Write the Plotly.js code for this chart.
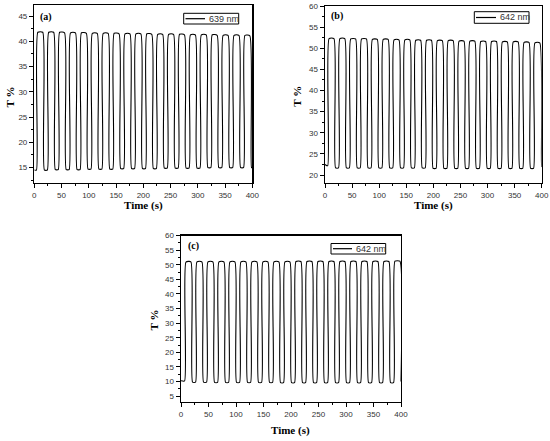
<!DOCTYPE html>
<html>
<head>
<meta charset="utf-8">
<script src="https://cdn.plot.ly/plotly-3.0.1.min.js"></script>
<style>html,body{margin:0;padding:0;background:#fff;}#chart{width:550px;height:441px;}</style>
</head>
<body>
<div id="chart"></div>
<script>
// Panel (a) 639 nm : time (s) and transmittance T %
const timeA = [0, 4, 6.5, 15.5, 18.5, 24, 26.5, 35.5, 38.5, 44, 46.5, 55.5, 58.5, 64, 66.5, 75.5, 78.5,
  84, 86.5, 95.5, 98.5, 104, 106.5, 115.5, 118.5, 124, 126.5, 135.5, 138.5, 144, 146.5, 155.5, 158.5,
  164, 166.5, 175.5, 178.5, 184, 186.5, 195.5, 198.5, 204, 206.5, 215.5, 218.5, 224, 226.5, 235.5, 238.5,
  244, 246.5, 255.5, 258.5, 264, 266.5, 275.5, 278.5, 284, 286.5, 295.5, 298.5, 304, 306.5, 315.5, 318.5,
  324, 326.5, 335.5, 338.5, 344, 346.5, 355.5, 358.5, 364, 366.5, 375.5, 378.5, 384, 386.5, 395.5, 398.5, 400];
const transA = [14.5, 14.5, 41.8, 41.8, 14.5, 14.5, 41.8, 41.8, 14.6, 14.6, 41.8, 41.7, 14.6, 14.6, 41.7, 41.7, 14.6,
  14.6, 41.7, 41.6, 14.7, 14.7, 41.6, 41.6, 14.7, 14.7, 41.6, 41.6, 14.7, 14.7, 41.6, 41.5, 14.8,
  14.8, 41.5, 41.5, 14.8, 14.8, 41.5, 41.5, 14.8, 14.8, 41.5, 41.4, 14.8, 14.8, 41.4, 41.4, 14.9,
  14.9, 41.4, 41.4, 14.9, 14.9, 41.4, 41.3, 14.9, 14.9, 41.3, 41.3, 14.9, 14.9, 41.3, 41.3, 15.0,
  15.0, 41.3, 41.2, 15.0, 15.0, 41.2, 41.2, 15.0, 15.0, 41.2, 41.2, 15.0, 15.0, 41.2, 41.1, 15.0, 15.0];

// Panel (b) 642 nm
const timeB = [0, 5, 7.5, 16.5, 19.5, 25, 27.5, 36.5, 39.5, 45, 47.5, 56.5, 59.5, 65, 67.5, 76.5, 79.5,
  85, 87.5, 96.5, 99.5, 105, 107.5, 116.5, 119.5, 125, 127.5, 136.5, 139.5, 145, 147.5, 156.5, 159.5,
  165, 167.5, 176.5, 179.5, 185, 187.5, 196.5, 199.5, 205, 207.5, 216.5, 219.5, 225, 227.5, 236.5, 239.5,
  245, 247.5, 256.5, 259.5, 265, 267.5, 276.5, 279.5, 285, 287.5, 296.5, 299.5, 305, 307.5, 316.5, 319.5,
  325, 327.5, 336.5, 339.5, 345, 347.5, 356.5, 359.5, 365, 367.5, 376.5, 379.5, 385, 387.5, 396.5, 399.5, 400];
const transB = [22.5, 22.2, 52.3, 52.3, 21.7, 21.7, 52.3, 52.3, 21.7, 21.7, 52.2, 52.2, 21.7, 21.7, 52.2, 52.2, 21.7,
  21.7, 52.1, 52.1, 21.7, 21.7, 52.1, 52.1, 21.7, 21.7, 52.0, 52.0, 21.7, 21.7, 52.0, 52.0, 21.7,
  21.7, 51.9, 51.9, 21.7, 21.7, 51.9, 51.9, 21.6, 21.6, 51.8, 51.8, 21.6, 21.6, 51.8, 51.8, 21.6,
  21.6, 51.7, 51.7, 21.6, 21.6, 51.7, 51.7, 21.6, 21.6, 51.6, 51.6, 21.6, 21.6, 51.6, 51.6, 21.6,
  21.6, 51.5, 51.5, 21.6, 21.6, 51.5, 51.5, 21.6, 21.6, 51.4, 51.4, 21.6, 21.6, 51.3, 51.3, 22.0, 22.2];

// Panel (c) 642 nm
const timeC = [0, 6.5, 9, 18, 21, 26.5, 29, 38, 41, 46.5, 49, 58, 61, 66.5, 69, 78, 81,
  86.5, 89, 98, 101, 106.5, 109, 118, 121, 126.5, 129, 138, 141, 146.5, 149, 158, 161,
  166.5, 169, 178, 181, 186.5, 189, 198, 201, 206.5, 209, 218, 221, 226.5, 229, 238, 241,
  246.5, 249, 258, 261, 266.5, 269, 278, 281, 286.5, 289, 298, 301, 306.5, 309, 318, 321,
  326.5, 329, 338, 341, 346.5, 349, 358, 361, 366.5, 369, 378, 381, 386.5, 389, 398, 400];
const transC = [10.3, 10.2, 50.9, 51.0, 9.8, 9.8, 51.0, 51.0, 9.8, 9.8, 51.0, 51.0, 9.7, 9.7, 51.0, 51.0, 9.7,
  9.7, 51.0, 51.0, 9.7, 9.7, 51.0, 51.0, 9.7, 9.7, 51.0, 51.0, 9.7, 9.7, 51.0, 51.0, 9.7,
  9.7, 51.0, 51.0, 9.6, 9.6, 51.0, 51.0, 9.6, 9.6, 51.1, 51.1, 9.6, 9.6, 51.1, 51.1, 9.6,
  9.6, 51.1, 51.1, 9.6, 9.6, 51.1, 51.1, 9.6, 9.6, 51.1, 51.1, 9.6, 9.6, 51.1, 51.1, 9.6,
  9.6, 51.1, 51.1, 9.6, 9.6, 51.1, 51.1, 9.6, 9.6, 51.1, 51.1, 9.6, 9.6, 51.2, 51.2, 10.0];

const seriesNames = ['639 nm', '642 nm', '642 nm'];
const panelLabels = ['(a)', '(b)', '(c)'];
const xTitle = 'Time (s)';
const yTitle = 'T %';

const lineStyle = {color: '#000', width: 1.1, shape: 'spline', smoothing: 0.5};
const data = [
  {x: timeA, y: transA, xaxis: 'x', yaxis: 'y', mode: 'lines', line: lineStyle, name: seriesNames[0], showlegend: false},
  {x: timeB, y: transB, xaxis: 'x2', yaxis: 'y2', mode: 'lines', line: lineStyle, name: seriesNames[1], showlegend: false},
  {x: timeC, y: transC, xaxis: 'x3', yaxis: 'y3', mode: 'lines', line: lineStyle, name: seriesNames[2], showlegend: false}
];

const tickFont = {family: 'Liberation Sans, Arial, sans-serif', size: 8, color: '#333'};
function xax(dom, anchor) {
  return {domain: dom, anchor: anchor, range: [0, 400], tick0: 0, dtick: 50, ticks: 'outside', ticklen: 4,
    tickwidth: 1, tickcolor: '#000', showline: true, linecolor: '#000', linewidth: 1.4, mirror: true,
    showgrid: false, zeroline: false, tickfont: tickFont, fixedrange: true,
    minor: {ticks: 'outside', dtick: 25, ticklen: 2, tickcolor: '#000', tickwidth: 1, showgrid: false}};
}
function yax(dom, anchor, rng) {
  return {domain: dom, anchor: anchor, range: rng, tick0: 0, dtick: 5, ticks: 'outside', ticklen: 4,
    tickwidth: 1, tickcolor: '#000', showline: true, linecolor: '#000', linewidth: 1.4, mirror: true,
    showgrid: false, zeroline: false, tickfont: tickFont, fixedrange: true,
    minor: {ticks: 'outside', dtick: 2.5, ticklen: 2, tickcolor: '#000', tickwidth: 1, showgrid: false}};
}

const W = 550, H = 441;
const px = v => v / W;
const py = v => 1 - v / H;

const titleFont = {family: 'Liberation Serif, Times New Roman, serif', size: 11, color: '#000'};
const labelFont = {family: 'Liberation Serif, Times New Roman, serif', size: 10, color: '#000'};
const legFont = {family: 'Liberation Sans, Arial, sans-serif', size: 9, color: '#333'};

function ann(text, x, y, font, extra) {
  return Object.assign({text: text, x: px(x), y: py(y), xref: 'paper', yref: 'paper', showarrow: false,
    xanchor: 'center', yanchor: 'middle', font: font}, extra || {});
}

const legends = [
  {box: [183.7, 13.3, 238.7, 24], line: [185.5, 205], ly: 18.7, tx: 207},
  {box: [474.3, 11.7, 529, 23.3], line: [476, 496], ly: 17.5, tx: 498},
  {box: [331, 243.5, 385.7, 254], line: [333, 352], ly: 248.7, tx: 354}
];

const shapes = [];
const annotations = [
  ann('<b>' + yTitle + '</b>', 9.5, 97, titleFont, {textangle: -90}),
  ann('<b>' + xTitle + '</b>', 143, 205, titleFont),
  ann('<b>' + yTitle + '</b>', 296.7, 96, titleFont, {textangle: -90}),
  ann('<b>' + xTitle + '</b>', 433, 205, titleFont),
  ann('<b>' + yTitle + '</b>', 153.5, 320, titleFont, {textangle: -90}),
  ann('<b>' + xTitle + '</b>', 290, 430, titleFont),
  ann('<b>' + panelLabels[0] + '</b>', 46, 17, labelFont),
  ann('<b>' + panelLabels[1] + '</b>', 337, 15.5, labelFont),
  ann('<b>' + panelLabels[2] + '</b>', 193, 245.5, labelFont)
];
legends.forEach((lg, i) => {
  shapes.push({type: 'rect', xref: 'paper', yref: 'paper', x0: px(lg.box[0]), x1: px(lg.box[2]),
    y0: py(lg.box[3]), y1: py(lg.box[1]), line: {color: '#000', width: 1}, fillcolor: 'rgba(0,0,0,0)'});
  shapes.push({type: 'line', xref: 'paper', yref: 'paper', x0: px(lg.line[0]), x1: px(lg.line[1]),
    y0: py(lg.ly), y1: py(lg.ly), line: {color: '#000', width: 1.2}});
  annotations.push(ann(seriesNames[i], lg.tx, lg.ly, legFont, {xanchor: 'left'}));
});

const layout = {
  width: W, height: H, margin: {l: 0, r: 0, t: 0, b: 0, pad: 0},
  paper_bgcolor: '#fff', plot_bgcolor: '#fff', showlegend: false,
  xaxis: xax([px(34.3), px(252.3)], 'y'),
  yaxis: yax([py(182.7), py(5)], 'x', [12, 47.2]),
  xaxis2: xax([px(325), px(541.7)], 'y2'),
  yaxis2: yax([py(182.7), py(6)], 'x2', [18.2, 60]),
  xaxis3: xax([px(181), px(401)], 'y3'),
  yaxis3: yax([py(402), py(235.5)], 'x3', [3, 60]),
  shapes: shapes,
  annotations: annotations
};

Plotly.newPlot('chart', data, layout, {displayModeBar: false, staticPlot: true});
</script>
</body>
</html>
